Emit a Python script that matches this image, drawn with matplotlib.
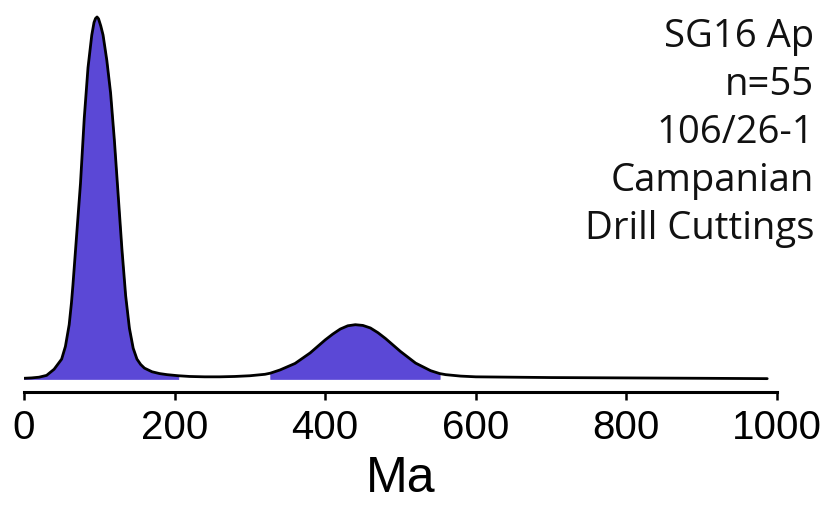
import numpy as np
import matplotlib
matplotlib.use("Agg")
import matplotlib.pyplot as plt

# Age (Ma) and relative probability density
age_ma = [0, 10, 20, 30, 40, 50, 55, 60, 63, 65, 70, 75, 80, 85, 90, 93, 95, 97,
          99, 102, 105, 110, 115, 120, 125, 130, 135, 140, 145, 150, 155, 160, 170,
          180, 190, 200, 205, 220, 240, 260, 280, 300, 320, 327, 340, 360, 380,
          400, 410, 420, 430, 440, 450, 460, 470, 480, 500, 520, 540, 552, 560,
          580, 600, 650, 700, 800, 900, 987]
density = [0.2, 0.3, 0.5, 1.0, 2.7, 5.5, 9, 15, 21, 26, 40, 54, 72, 86, 95, 98.5, 99.6, 100,
           99.5, 97.5, 95, 88, 79, 66, 51, 36, 23, 14, 8.5, 5.5, 4.0, 3.0, 2.0,
           1.5, 1.2, 1.0, 0.9, 0.7, 0.6, 0.6, 0.7, 0.9, 1.3, 1.6, 2.5, 4.3, 7.2,
           10.8, 12.4, 13.8, 14.7, 15.0, 14.8, 14.1, 12.8, 11.2, 7.6, 4.4, 2.3, 1.5, 1.2,
           0.8, 0.6, 0.5, 0.4, 0.3, 0.2, 0.1]

# age windows that are shaded under the curve
fill_ranges = [(0, 205), (327, 552)]

xticks = [0, 200, 400, 600, 800, 1000]
label_lines = ["SG16 Ap", "n=55", "106/26-1", "Campanian", "Drill Cuttings"]

fill_color = "#5B48D6"

fig = plt.figure(figsize=(8.22, 5.08), dpi=100)
W, H = 822, 508
# axes box in pixels: x 24..777, y 10..392 (top..bottom)
ax = fig.add_axes([24 / W, (H - 392) / H, 753 / W, 382 / H])

x = np.array(age_ma, dtype=float)
y = np.array(density, dtype=float)

for lo, hi in fill_ranges:
    mask = (x >= lo) & (x <= hi)
    ax.fill_between(x[mask], 0, y[mask], facecolor=fill_color, edgecolor=fill_color,
                    linewidth=0.5)

ax.plot(x, y, color="black", linewidth=2.0, solid_capstyle="round", solid_joinstyle="round")

ax.set_xlim(0, 1000)
ax.set_ylim(-3.59, 101.93)

for side in ["top", "right", "left"]:
    ax.spines[side].set_visible(False)
ax.spines["bottom"].set_linewidth(2.2)
ax.set_yticks([])
ax.set_xticks(xticks)
ax.set_xticklabels([str(t) for t in xticks], fontfamily="Liberation Sans", fontsize=29)
ax.tick_params(axis="x", direction="out", length=6, width=1.8, pad=6)

ax.set_xlabel("Ma", fontfamily="Liberation Sans", fontsize=36, labelpad=7)

# sample annotation, right aligned in the upper right corner
for i, line in enumerate(label_lines):
    fig.text(814 / W, 1 - (47 + 48 * i) / H, line, ha="right", va="baseline",
             fontfamily="Open Sans", fontsize=27.5, color="#111111")

fig.savefig("out.png", dpi=100)
